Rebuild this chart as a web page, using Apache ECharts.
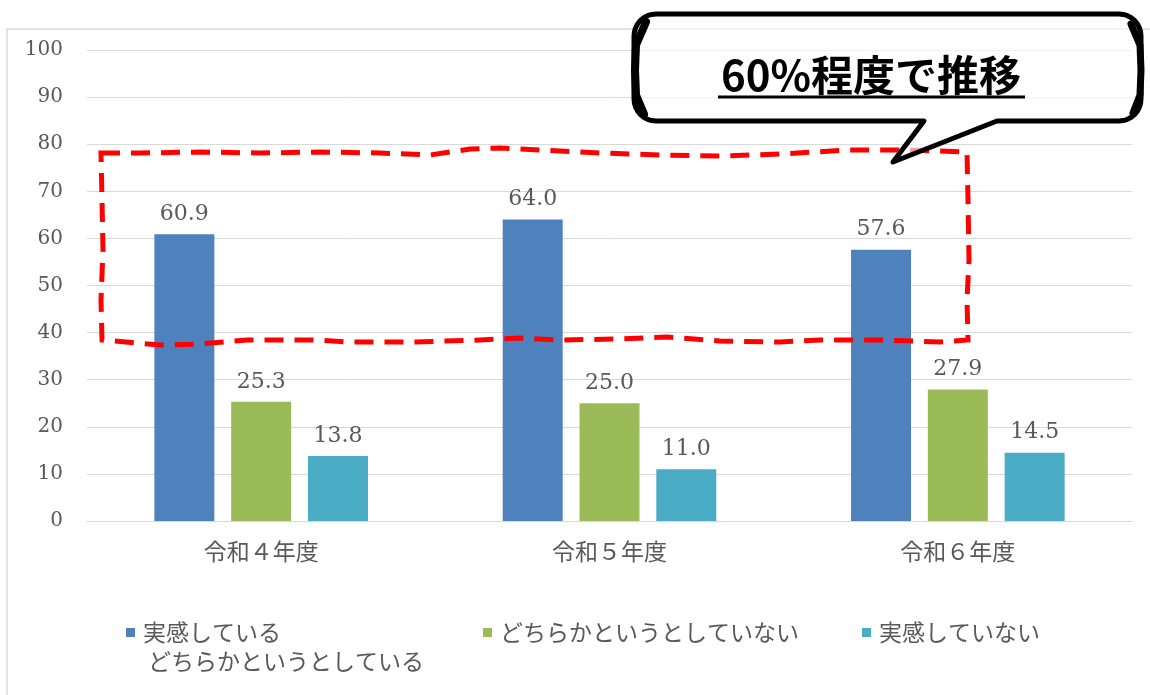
<!DOCTYPE html>
<html>
<head>
<meta charset="utf-8">
<script src="https://cdn.jsdelivr.net/npm/echarts@6/dist/echarts.min.js"></script>
<style>
html,body{margin:0;padding:0;background:#fff;}
#c{width:1150px;height:695px;}
</style>
</head>
<body>
<div id="c"></div>
<script>
const categories = ['令和４年度', '令和５年度', '令和６年度'];
const seriesNames = ['実感している\nどちらかというとしている', 'どちらかというとしていない', '実感していない'];
const seriesColors = ['#4F81BD', '#9BBB59', '#4BACC6'];
const valuesPositive = [60.9, 64.0, 57.6];
const valuesNeutral = [25.3, 25.0, 27.9];
const valuesNegative = [13.8, 11.0, 14.5];
const yTicks = { min: 0, max: 100, interval: 10 };
const calloutText = '60%程度で推移';

const seriesValues = [valuesPositive, valuesNeutral, valuesNegative];
const jp = '"Noto Sans CJK JP", "Noto Sans", sans-serif';
const serif = '"DejaVu Serif", "Liberation Serif", serif';
const grey = '#595959';

const chart = echarts.init(document.getElementById('c'), null, { renderer: 'canvas' });

const series = seriesNames.map((name, i) => ({
  name: name,
  type: 'bar',
  data: seriesValues[i],
  barWidth: 60,
  barGap: '28%',
  itemStyle: { color: seriesColors[i] },
  label: {
    show: true,
    position: 'top',
    distance: 9,
    formatter: p => p.value.toFixed(1),
    color: grey,
    fontFamily: serif,
    fontSize: 22
  },
  z: 2
}));

const legendLefts = [126, 483, 862];
const legends = seriesNames.map((name, i) => ({
  data: [name],
  left: legendLefts[i],
  top: 621,
  icon: 'rect',
  itemWidth: 9,
  itemHeight: 9,
  padding: 0,
  selectedMode: false,
  formatter: n => n.split('\n')[0],
  textStyle: { color: grey, fontFamily: jp, fontSize: 23, padding: [0, 0, 0, 3] }
}));

// wavy dashed annotation outline (pixel annotation)
const boxPts = [
  [101,153],[140,153],[200,152],[260,153],[320,152],[380,153],[430,155],[470,149],[500,148],[540,150],[600,153],[660,155],[720,156],[780,154],[850,150],[900,150],[940,151],[967,152],
  [968,200],[969,260],[967,300],[968,340],
  [940,342],[880,340],[820,340],[780,342],[720,341],[667,337],[620,339],[560,340],[520,338],[480,340],[413,342],[350,342],[313,340],[247,340],[200,344],[160,345],[137,343],[102,340],
  [101,300],[103,250],[102,200]
];

// speech bubble outline built as a polygon with rounded corners
function arc(cx, cy, r, a0, a1) {
  const pts = [];
  for (let k = 0; k <= 8; k++) {
    const a = a0 + (a1 - a0) * k / 8;
    pts.push([cx + r * Math.cos(a), cy + r * Math.sin(a)]);
  }
  return pts;
}
const bL = 634, bR = 1141, bT = 14, bB = 121, rad = 22;
const PI = Math.PI;
const bubblePts = [].concat(
  arc(bL + rad, bT + rad, rad, PI, 1.5 * PI),
  arc(bR - rad, bT + rad, rad, 1.5 * PI, 2 * PI),
  arc(bR - rad, bB - rad, rad, 0, 0.5 * PI),
  [[997, bB], [893, 162], [924, bB]],
  arc(bL + rad, bB - rad, rad, 0.5 * PI, PI)
);

const option = {
  backgroundColor: '#fff',
  animation: false,
  grid: { left: 87, right: 18, top: 50, bottom: 174, containLabel: false },
  xAxis: {
    type: 'category',
    data: categories,
    axisLine: { lineStyle: { color: '#D9D9D9', width: 1 } },
    axisTick: { show: false },
    axisLabel: { color: grey, fontFamily: jp, fontSize: 23, margin: 19 }
  },
  yAxis: {
    type: 'value',
    min: yTicks.min,
    max: yTicks.max,
    interval: yTicks.interval,
    axisLine: { show: false },
    axisTick: { show: false },
    splitLine: { lineStyle: { color: '#D9D9D9', width: 1 } },
    axisLabel: { color: grey, fontFamily: serif, fontSize: 20, margin: 24 }
  },
  legend: legends,
  series: series,
  graphic: [
    { type: 'rect', z: -10, silent: true,
      shape: { x: 7, y: 29, width: 1300, height: 800 },
      style: { fill: 'none', stroke: '#D9D9D9', lineWidth: 1.5 } },
    { type: 'text', x: 148, y: 650, z: 5,
      style: { text: seriesNames[0].split('\n')[1], fill: grey, font: '23px ' + jp } },
    { type: 'polygon', z: 20, silent: true,
      shape: { points: boxPts },
      style: { fill: 'none', stroke: '#FF0000', lineWidth: 5, lineDash: [19, 11] } },
    { type: 'polygon', z: 30, silent: true,
      shape: { points: bubblePts },
      style: { fill: 'rgba(255,255,255,0.6)', stroke: '#000', lineWidth: 5, lineJoin: 'round' } },
    { type: 'polyline', z: 30, silent: true,
      shape: { points: [[646, 22], [636, 45], [635, 70], [636, 95], [644, 114]] },
      style: { stroke: '#000', lineWidth: 8, lineCap: 'round', fill: 'none' } },
    { type: 'polyline', z: 30, silent: true,
      shape: { points: [[1131, 24], [1140, 45], [1141, 70], [1140, 95], [1133, 113]] },
      style: { stroke: '#000', lineWidth: 7, lineCap: 'round', fill: 'none' } },
    { type: 'text', z: 31, x: 871, y: 75, silent: true,
      style: { text: calloutText, fill: '#000', font: 'bold 42px ' + jp, align: 'center', verticalAlign: 'middle' } },
    { type: 'line', z: 31, silent: true,
      shape: { x1: 718, y1: 97, x2: 1025, y2: 97 },
      style: { stroke: '#000', lineWidth: 3 } }
  ]
};

chart.setOption(option);
</script>
</body>
</html>
